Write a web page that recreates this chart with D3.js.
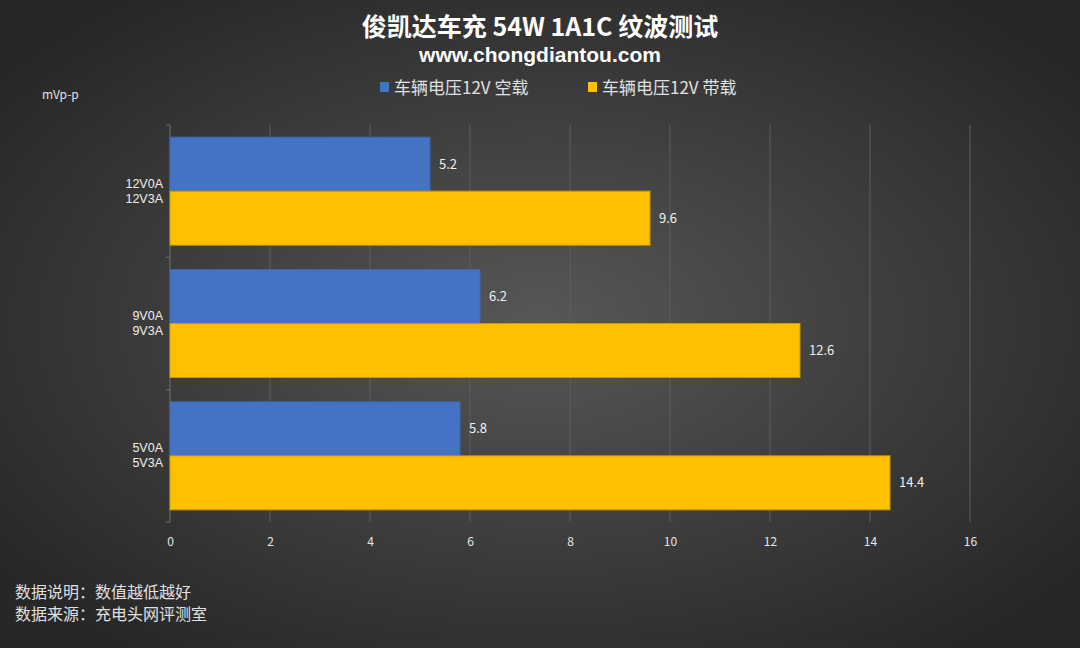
<!DOCTYPE html>
<html>
<head>
<meta charset="utf-8">
<script src="https://cdn.jsdelivr.net/npm/d3@7/dist/d3.min.js"></script>
<style>
  html, body { margin: 0; padding: 0; background: #333; }
  svg { display: block; }
  text { font-family: "Noto Sans CJK SC", "Noto Sans", sans-serif; }
</style>
</head>
<body>
<script>
// ---- Data ----
const categories = ["12V", "9V", "5V"];
const categoryLabels = [["12V0A", "12V3A"], ["9V0A", "9V3A"], ["5V0A", "5V3A"]];
const seriesNames = ["车辆电压12V 空载", "车辆电压12V 带载"];
const idleValues = [5.2, 6.2, 5.8];
const loadValues = [9.6, 12.6, 14.4];
const xTicks = [0, 2, 4, 6, 8, 10, 12, 14, 16];
const seriesColors = ["#4472C4", "#FFC000"];
const seriesStrokes = ["#3d66b0", "#c79a00"];
const titleText = "俊凯达车充 54W 1A1C 纹波测试";
const subtitleText = "www.chongdiantou.com";
const unitText = "mVp-p";
const noteLines = ["数据说明：数值越低越好", "数据来源：充电头网评测室"];

const W = 1080, H = 648;
const svg = d3.select("body").append("svg").attr("width", W).attr("height", H);

// background
const defs = svg.append("defs");
const grad = defs.append("radialGradient").attr("id", "bg")
  .attr("cx", "50%").attr("cy", "50%").attr("r", "62%");
grad.append("stop").attr("offset", "0%").attr("stop-color", "#575757");
grad.append("stop").attr("offset", "100%").attr("stop-color", "#272727");
svg.append("rect").attr("width", W).attr("height", H).attr("fill", "url(#bg)");

// scales
const x = d3.scaleLinear().domain([0, 16]).range([170, 970]);
const y = d3.scaleBand().domain(categories).range([125, 522]).padding(0);
const ys = d3.scaleBand().domain([0, 1]).range([0, y.bandwidth()]).paddingInner(0).paddingOuter(0.225);

// gridlines
svg.append("g").selectAll("line").data(xTicks.filter(d => d > 0)).join("line")
  .attr("x1", d => x(d)).attr("x2", d => x(d))
  .attr("y1", 125).attr("y2", 522)
  .attr("stroke", "#5f5f5f").attr("stroke-width", 1);

// x axis labels (no line)
const xAxis = d3.axisBottom(x).tickValues(xTicks).tickSize(0).tickPadding(10).tickFormat(d3.format("d"));
const gx = svg.append("g").attr("transform", "translate(0,527)").call(xAxis);
gx.select(".domain").remove();
gx.selectAll("text").attr("fill", "#e6e6e6").style("font-size", "12px");

// y axis line and boundary ticks
svg.append("line").attr("x1", x(0)).attr("x2", x(0)).attr("y1", 125).attr("y2", 522)
  .attr("stroke", "#707070");
const bounds = categories.map(c => y(c)).concat([y(categories[categories.length - 1]) + y.bandwidth()]);
svg.append("g").selectAll("line").data(bounds).join("line")
  .attr("x1", x(0) - 4).attr("x2", x(0))
  .attr("y1", d => d).attr("y2", d => d)
  .attr("stroke", "#707070");

// bars
const rows = categories.map((c, i) => ({ c, vals: [idleValues[i], loadValues[i]] }));
const gRows = svg.append("g").selectAll("g").data(rows).join("g")
  .attr("transform", d => `translate(0,${y(d.c)})`);
gRows.selectAll("rect").data(d => d.vals.map((v, s) => ({ v, s }))).join("rect")
  .attr("x", x(0))
  .attr("y", d => ys(d.s))
  .attr("width", d => x(d.v) - x(0))
  .attr("height", ys.bandwidth())
  .attr("fill", d => seriesColors[d.s])
  .attr("stroke", d => seriesStrokes[d.s]).attr("stroke-width", 1);
gRows.selectAll("text.val").data(d => d.vals.map((v, s) => ({ v, s }))).join("text")
  .attr("class", "val")
  .attr("x", d => x(d.v) + 9)
  .attr("y", d => ys(d.s) + ys.bandwidth() / 2)
  .attr("dy", "0.35em")
  .attr("fill", "#f0f0f0").style("font-size", "13px")
  .text(d => d.v);

// category labels (two lines each)
gRows.each(function (d, i) {
  const g = d3.select(this);
  categoryLabels[i].forEach((l, k) => {
    g.append("text")
      .attr("x", 163).attr("y", y.bandwidth() / 2 + (k === 0 ? -8 : 7))
      .attr("dy", "0.35em")
      .attr("text-anchor", "end").attr("fill", "#eeeeee")
      .style("font-family", "'Liberation Sans', Arial, sans-serif")
      .style("font-size", "12.5px")
      .text(l);
  });
});

// title
svg.append("text").attr("x", W / 2).attr("y", 36).attr("text-anchor", "middle")
  .attr("fill", "#ffffff").style("font-size", "25px").style("font-weight", "bold").text(titleText);
svg.append("text").attr("x", W / 2).attr("y", 62).attr("text-anchor", "middle")
  .attr("fill", "#ffffff").style("font-family", "'Liberation Sans', Arial, sans-serif")
  .style("font-size", "21px").style("font-weight", "bold").text(subtitleText);

// legend
const legendX = [380, 588];
seriesNames.forEach((n, i) => {
  svg.append("rect").attr("x", legendX[i]).attr("y", 82).attr("width", 9).attr("height", 10)
    .attr("fill", seriesColors[i]);
  svg.append("text").attr("x", legendX[i] + 14).attr("y", 88).attr("dy", "0.35em")
    .attr("fill", "#e0e0e0").style("font-size", "17px").text(n);
});

// unit
svg.append("text").attr("x", 42).attr("y", 99).attr("fill", "#e0e0e0")
  .style("font-size", "12px").text(unitText);

// notes
noteLines.forEach((l, i) => {
  svg.append("text").attr("x", 15).attr("y", 598 + i * 22).attr("fill", "#e0e0e0")
    .style("font-size", "16px").text(l);
});
</script>
</body>
</html>
